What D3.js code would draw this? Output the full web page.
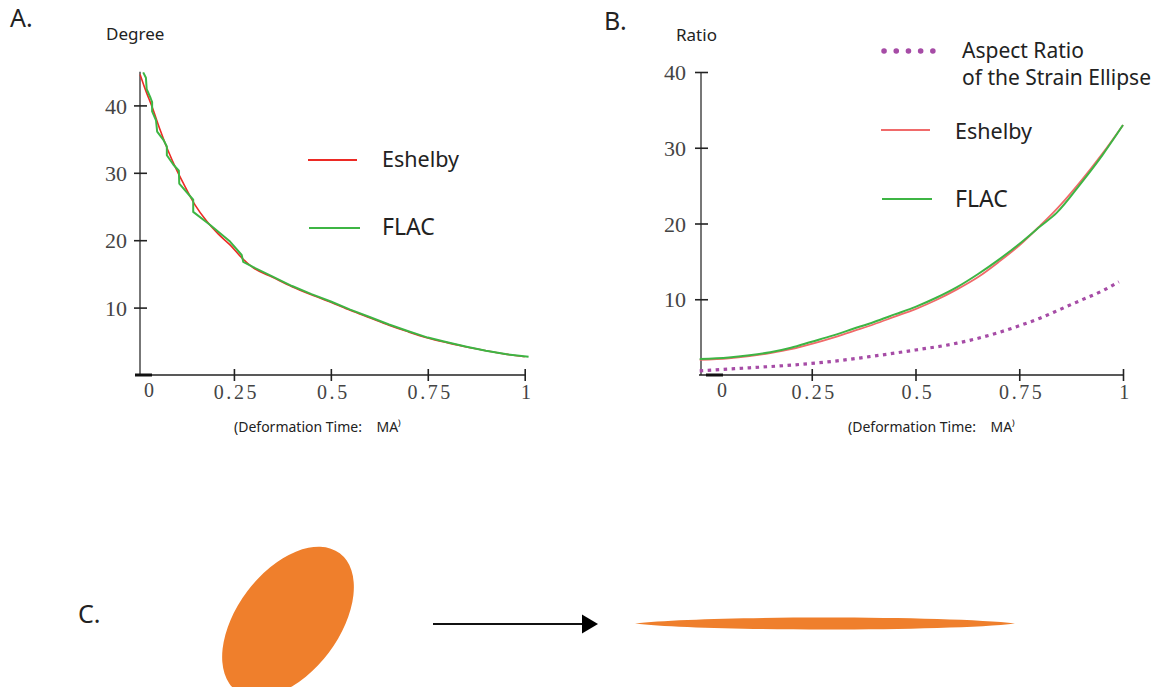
<!DOCTYPE html>
<html>
<head>
<meta charset="utf-8">
<script src="https://cdn.jsdelivr.net/npm/d3@7"></script>
<style>
  body { margin: 0; background: #fff; }
  svg { display: block; }
  .lbl { font-family: "Noto Sans", "Open Sans", sans-serif; fill: #222; }
  .num { font-family: "Liberation Serif", "DejaVu Serif", serif; fill: #444; }
</style>
</head>
<body>
<svg id="chart" width="1158" height="687"></svg>
<script>
// ---- panel A: angle (degree) vs deformation time ----
var timeA_eshelby = [0.008, 0.02, 0.04, 0.06, 0.08, 0.1, 0.12, 0.15, 0.18, 0.21, 0.24, 0.27, 0.3, 0.35, 0.4, 0.45, 0.5, 0.55, 0.6, 0.65, 0.7, 0.75, 0.8, 0.85, 0.9, 0.95, 1];
var degreeEshelby = [44.6, 42.6, 39.6, 36.3, 33.3, 30.7, 28.4, 25.2, 22.8, 20.9, 19.3, 17.4, 15.9, 14.5, 13.1, 11.9, 10.8, 9.6, 8.5, 7.4, 6.4, 5.5, 4.8, 4.15, 3.6, 3.1, 2.7];

var timeA_flac = [0.016, 0.023, 0.025, 0.035, 0.039, 0.039, 0.049, 0.052, 0.068, 0.077, 0.077, 0.094, 0.108, 0.109, 0.145, 0.145, 0.188, 0.24, 0.27, 0.274, 0.3, 0.35, 0.4, 0.45, 0.5, 0.55, 0.6, 0.65, 0.7, 0.75, 0.8, 0.85, 0.9, 0.95, 1.01];
var degreeFlac = [44.9, 44.1, 42.4, 41.1, 40.5, 39.1, 37.8, 36.1, 34.9, 33.9, 32.6, 31.2, 30.3, 28.4, 26.0, 24.2, 22.3, 19.8, 17.8, 16.8, 16.0, 14.6, 13.2, 12.0, 10.9, 9.7, 8.6, 7.5, 6.5, 5.55, 4.85, 4.2, 3.6, 3.1, 2.7];

// ---- panel B: ratio vs deformation time ----
var timeB = [-0.02, 0.05, 0.1, 0.15, 0.2, 0.25, 0.3, 0.35, 0.4, 0.45, 0.5, 0.55, 0.6, 0.65, 0.7, 0.75, 0.8, 0.84, 0.9, 0.95, 1];
var ratioEshelby = [2.0, 2.2, 2.5, 2.9, 3.4, 4.1, 4.9, 5.8, 6.7, 7.7, 8.7, 9.9, 11.3, 12.9, 14.9, 17.1, 19.7, 21.9, 25.7, 29.2, 33.0];
var ratioFlac = [2.1, 2.3, 2.6, 3.0, 3.6, 4.4, 5.2, 6.1, 7.0, 8.0, 9.0, 10.2, 11.6, 13.3, 15.2, 17.3, 19.6, 21.4, 25.4, 29.0, 33.0];

var timeEllipse = [-0.02, 0.1, 0.2, 0.3, 0.4, 0.5, 0.6, 0.7, 0.75, 0.8, 0.85, 0.9, 0.95, 0.99];
var ratioEllipse = [0.55, 0.95, 1.3, 1.8, 2.5, 3.3, 4.2, 5.6, 6.5, 7.5, 8.7, 9.9, 11.1, 12.3];

var xTicks = [0.25, 0.5, 0.75, 1];
var yTicks = [10, 20, 30, 40];

var RED = '#ec2a24', RED_B = '#f06a6a', GREEN = '#3db544', PURPLE = '#a64ca6', ORANGE = '#ef7f2c';

var svg = d3.select('#chart');

function zip(xs, ys) {
  return xs.map(function (x, i) { return [x, ys[i]]; });
}

function drawAxes(g, x, y, opt) {
  // vertical axis line runs a bit above the last tick
  g.append('line')
    .attr('x1', opt.yAxisX).attr('x2', opt.yAxisX)
    .attr('y1', y(opt.yTop)).attr('y2', y(0))
    .attr('stroke', '#555').attr('stroke-width', 1.6);

  var ya = g.append('g').attr('transform', 'translate(' + opt.yAxisX + ',0)')
    .call(d3.axisLeft(y).tickValues(yTicks).tickSize(6).tickFormat(d3.format('d')));
  ya.select('.domain').remove();
  ya.selectAll('.tick line').attr('x1', 7).attr('stroke', '#222').attr('stroke-width', 1.6);
  ya.selectAll('.tick text')
    .attr('class', 'num').attr('x', opt.yLabelDx).attr('dy', '0.35em')
    .style('font-size', '22px').attr('fill', null);

  var xa = g.append('g').attr('transform', 'translate(0,' + y(0) + ')')
    .call(d3.axisBottom(x).tickValues(xTicks).tickSize(6).tickFormat(function (d) { return String(d); }));
  xa.select('.domain').remove();
  xa.append('line')
    .attr('x1', opt.xAxisFrom).attr('x2', x(1) + 1)
    .attr('stroke', '#222').attr('stroke-width', 1.6);
  xa.selectAll('.tick line').attr('y1', -6).attr('stroke', '#222').attr('stroke-width', 1.6);
  xa.selectAll('.tick text')
    .attr('class', 'num').attr('y', 24).attr('dy', 0).attr('dx', 2)
    .style('font-size', '20px').style('letter-spacing', '2.6px').attr('fill', null);

  // short black stub at the origin and its "0" label
  xa.append('line')
    .attr('x1', x(0) - 2).attr('x2', x(0) + 15)
    .attr('stroke', '#111').attr('stroke-width', 3);
  xa.append('text').attr('class', 'num')
    .attr('x', x(0) + opt.zeroDx).attr('y', 22)
    .attr('text-anchor', 'middle').style('font-size', '20px')
    .text('0');

  g.append('text').attr('class', 'lbl')
    .attr('x', opt.xTitleX).attr('y', 432)
    .style('font-size', '14px').style('white-space', 'pre')
    .text('(Deformation Time:    MA\u207E');
}

function legendLine(g, x1, x2, y, color, label, tx, ty, size) {
  g.append('line').attr('x1', x1).attr('x2', x2).attr('y1', y).attr('y2', y)
    .attr('stroke', color).attr('stroke-width', 1.8);
  g.append('text').attr('class', 'lbl')
    .attr('x', tx).attr('y', ty)
    .style('font-size', size + 'px')
    .text(label);
}

// ---------------- Panel A ----------------
var gA = svg.append('g');
var xA = d3.scaleLinear().domain([0, 1]).range([137, 524.7]);
var yA = d3.scaleLinear().domain([0, 40]).range([375, 105.4]);

gA.append('text').attr('class', 'lbl').attr('x', 10).attr('y', 27).style('font-size', '25px').text('A.');
gA.append('text').attr('class', 'lbl').attr('x', 106).attr('y', 40).style('font-size', '17px').text('Degree');

drawAxes(gA, xA, yA, { yAxisX: 140, yTop: 45, yLabelDx: -13, xAxisFrom: 135, zeroDx: 12, xTitleX: 234 });

var lineA = d3.line().x(function (d) { return xA(d[0]); }).y(function (d) { return yA(d[1]); });
var lineAs = d3.line().curve(d3.curveMonotoneX).x(function (d) { return xA(d[0]); }).y(function (d) { return yA(d[1]); });

gA.append('path').datum(zip(timeA_eshelby, degreeEshelby))
  .attr('d', lineAs).attr('fill', 'none').attr('stroke', RED).attr('stroke-width', 1.6);
gA.append('path').datum(zip(timeA_flac, degreeFlac))
  .attr('d', lineA).attr('fill', 'none').attr('stroke', GREEN).attr('stroke-width', 2)
  .attr('stroke-linejoin', 'round');

legendLine(gA, 308, 357, 160, RED, 'Eshelby', 382, 167, 21.5);
legendLine(gA, 309, 360, 228, GREEN, 'FLAC', 382, 235, 23);

// ---------------- Panel B ----------------
var gB = svg.append('g');
var xB = d3.scaleLinear().domain([0, 1]).range([708, 1123]);
var yB = d3.scaleLinear().domain([0, 40]).range([375, 72]);

gB.append('text').attr('class', 'lbl').attr('x', 604).attr('y', 30).style('font-size', '25px').text('B.');
gB.append('text').attr('class', 'lbl').attr('x', 676).attr('y', 41).style('font-size', '17px').text('Ratio');

drawAxes(gB, xB, yB, { yAxisX: 701, yTop: 40, yLabelDx: -15, xAxisFrom: 699, zeroDx: 14, xTitleX: 848 });

var lineB = d3.line().curve(d3.curveMonotoneX).x(function (d) { return xB(d[0]); }).y(function (d) { return yB(d[1]); });

gB.append('path').datum(zip(timeEllipse, ratioEllipse))
  .attr('d', lineB).attr('fill', 'none').attr('stroke', PURPLE).attr('stroke-width', 3.2)
  .attr('stroke-dasharray', '3.5 4.5');
gB.append('path').datum(zip(timeB, ratioEshelby))
  .attr('d', lineB).attr('fill', 'none').attr('stroke', RED_B).attr('stroke-width', 1.8);
gB.append('path').datum(zip(timeB, ratioFlac))
  .attr('d', lineB).attr('fill', 'none').attr('stroke', GREEN).attr('stroke-width', 2);

// legend B
gB.append('line').attr('x1', 884).attr('x2', 933).attr('y1', 51).attr('y2', 51)
  .attr('stroke', PURPLE).attr('stroke-width', 5.5).attr('stroke-linecap', 'round')
  .attr('stroke-dasharray', '0.1 12.1');
gB.append('text').attr('class', 'lbl').attr('x', 962).attr('y', 58).style('font-size', '21px').text('Aspect Ratio');
gB.append('text').attr('class', 'lbl').attr('x', 962).attr('y', 85).style('font-size', '21px').text('of the Strain Ellipse');
legendLine(gB, 881, 930, 130, RED_B, 'Eshelby', 955, 139, 21.5);
legendLine(gB, 882, 932, 199, GREEN, 'FLAC', 955, 207, 23);

// ---------------- Panel C ----------------
var gC = svg.append('g');
gC.append('text').attr('class', 'lbl').attr('x', 78).attr('y', 623).style('font-size', '25px').text('C.');

gC.append('ellipse')
  .attr('cx', 0).attr('cy', 0).attr('rx', 86).attr('ry', 51)
  .attr('transform', 'translate(288,622) rotate(-53)')
  .attr('fill', ORANGE);

gC.append('line').attr('x1', 433).attr('x2', 585).attr('y1', 624).attr('y2', 624)
  .attr('stroke', '#111').attr('stroke-width', 2);
gC.append('path')
  .attr('d', d3.line()([[582, 614.5], [598, 624], [582, 633.5]]) + 'Z')
  .attr('fill', '#000');

// stretched ellipse with pointed ends
var lens = d3.path();
lens.moveTo(635, 623.5);
lens.bezierCurveTo(700, 615.5, 950, 615.5, 1015, 623.5);
lens.bezierCurveTo(950, 631.5, 700, 631.5, 635, 623.5);
lens.closePath();
gC.append('path').attr('d', lens.toString()).attr('fill', ORANGE);
</script>
</body>
</html>
